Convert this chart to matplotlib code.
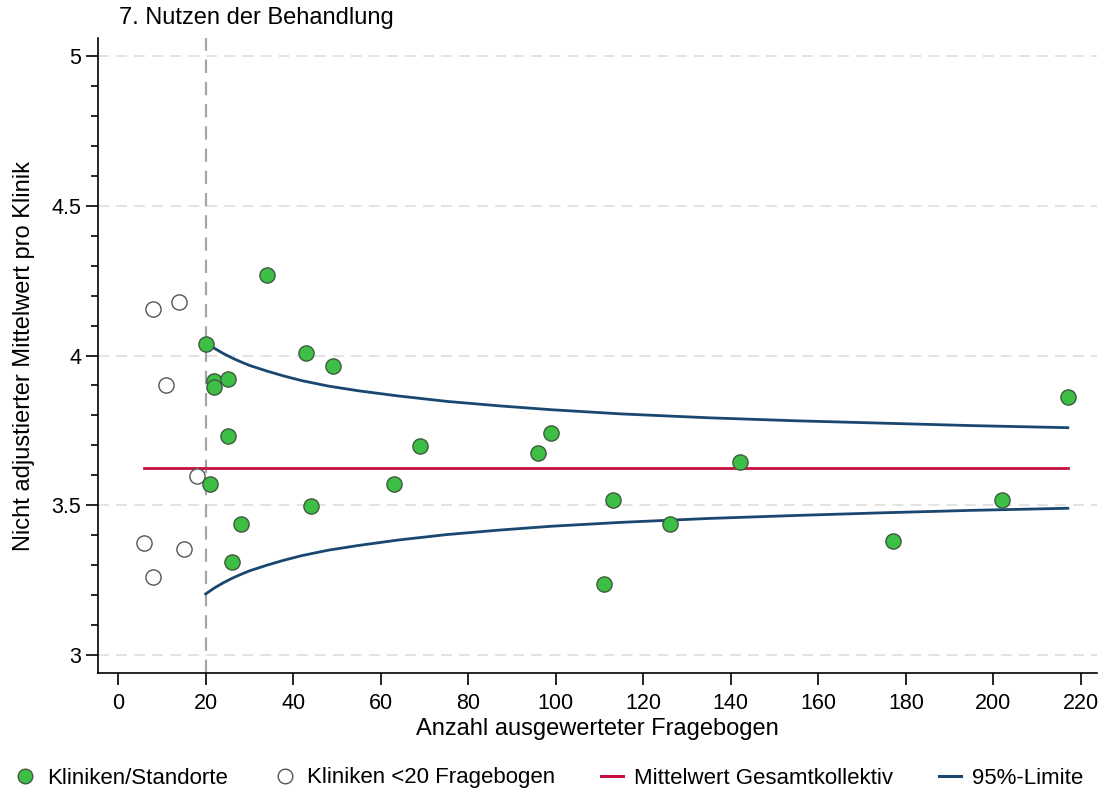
import numpy as np
import matplotlib
matplotlib.use("Agg")
import matplotlib.pyplot as plt
from matplotlib.lines import Line2D
from matplotlib.ticker import MultipleLocator

plt.rcParams['font.family'] = ['Liberation Sans', 'DejaVu Sans']

# Kliniken mit >= 20 Fragebogen
n_kliniken = [20, 22, 22, 25, 25, 21, 26, 28, 34, 43, 49, 44, 63, 69,
              96, 99, 111, 113, 126, 142, 177, 202, 217]
mw_kliniken = [4.038, 3.915, 3.895, 3.922, 3.731, 3.571, 3.310, 3.437, 4.269,
               4.008, 3.965, 3.497, 3.571, 3.698, 3.674, 3.741, 3.237, 3.518,
               3.437, 3.644, 3.381, 3.518, 3.861]

# Kliniken mit < 20 Fragebogen
n_klein = [8, 14, 11, 18, 6, 8, 15]
mw_klein = [4.155, 4.179, 3.901, 3.598, 3.374, 3.260, 3.354]

# Gesamtmittelwert
mittelwert = 3.624
mw_von, mw_bis = 6, 217

# 95%-Grenzen
limit_n = [20, 22, 24, 26, 28, 30, 34, 38, 42, 48, 55, 64, 75, 87, 99,
           115, 135, 155, 175, 195, 217]
limit_oben = [4.044, 4.024, 4.007, 3.992, 3.979, 3.967, 3.948, 3.931, 3.916,
              3.898, 3.882, 3.865, 3.847, 3.832, 3.819, 3.805, 3.792, 3.782,
              3.774, 3.766, 3.759]
limit_unten = [3.204, 3.224, 3.241, 3.256, 3.269, 3.281, 3.300, 3.317, 3.332,
               3.350, 3.366, 3.384, 3.402, 3.417, 3.430, 3.443, 3.456, 3.466,
               3.475, 3.483, 3.490]

GRUEN = '#3dbf45'
ROT = '#c8103e'
BLAU = '#1a476f'

fig = plt.figure(figsize=(11.04, 7.94), dpi=100)
ax = fig.add_axes([0.0888, 0.1524, 0.905, 0.7997])

for y in [3, 3.5, 4, 4.5, 5]:
    ax.axhline(y, color='#e0e0e0', lw=1.3, ls=(0, (6, 4)), zorder=0)
ax.axvline(20, color='#a6a6a6', lw=1.6, ls=(0, (6, 4)), zorder=1)

ax.plot([mw_von, mw_bis], [mittelwert, mittelwert], color=ROT, lw=2, zorder=2)
ax.plot(limit_n, limit_oben, color=BLAU, lw=2, zorder=2)
ax.plot(limit_n, limit_unten, color=BLAU, lw=2, zorder=2)

ax.scatter(n_klein, mw_klein, s=120, facecolor='white', edgecolor='#555555',
           lw=1, zorder=3)
ax.scatter(n_kliniken, mw_kliniken, s=120, facecolor=GRUEN, edgecolor='#3f5a3f',
           lw=1, zorder=4)

ax.set_xlim(-4.6, 223.7)
ax.set_ylim(2.94, 5.06)
ax.set_xticks(np.arange(0, 221, 20))
ax.set_yticks([3, 3.5, 4, 4.5, 5])
ax.set_yticklabels(['3', '3.5', '4', '4.5', '5'])
ax.yaxis.set_minor_locator(MultipleLocator(0.1))
ax.tick_params(axis='both', which='major', length=8.5, width=1.2, labelsize=15.5,
               direction='out', color='black')
ax.tick_params(axis='y', which='minor', length=5, width=1.2)
ax.tick_params(axis='x', which='major', pad=6)

for side in ['top', 'right']:
    ax.spines[side].set_visible(False)
for side in ['left', 'bottom']:
    ax.spines[side].set_linewidth(1.2)

ax.set_xlabel('Anzahl ausgewerteter Fragebogen', fontsize=17, labelpad=3)
ax.set_ylabel('Nicht adjustierter Mittelwert pro Klinik', fontsize=17, labelpad=12)

fig.text(119 / 1104, 1 - 18 / 794, '7. Nutzen der Behandlung', fontsize=17,
         ha='left', va='center')

handles = [
    Line2D([], [], ls='none', marker='o', markersize=10.5, markerfacecolor=GRUEN,
           markeredgecolor='#3f5a3f', markeredgewidth=1),
    Line2D([], [], ls='none', marker='o', markersize=10.5, markerfacecolor='white',
           markeredgecolor='#555555', markeredgewidth=1),
    Line2D([], [], color=ROT, lw=2.2),
    Line2D([], [], color=BLAU, lw=2.2),
]
labels = ['Kliniken/Standorte', 'Kliniken <20 Fragebogen',
          'Mittelwert Gesamtkollektiv', '95%-Limite']
fig.legend(handles, labels, loc='center left', bbox_to_anchor=(14 / 1104, 16 / 794),
           ncol=4, frameon=False, fontsize=16, handlelength=1.0, borderpad=0,
           borderaxespad=0, handletextpad=0.5, columnspacing=2.05)

fig.savefig('out.png', dpi=100)
